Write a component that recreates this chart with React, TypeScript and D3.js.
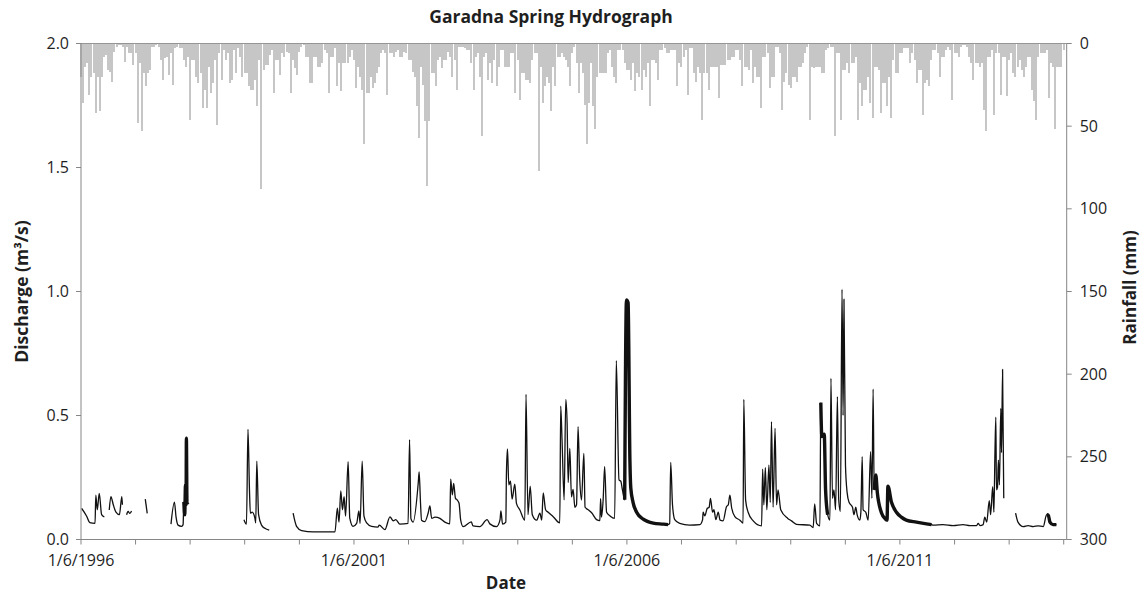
import React from "react";
import * as d3 from "d3";

// ---- labels ----
const chartTitle = "Garadna Spring Hydrograph";
const xTitle = "Date";
const leftTitle = "Discharge (m³/s)";
const rightTitle = "Rainfall (mm)";
const dischargeTicks = [0, 0.5, 1.0, 1.5, 2.0];
const rainTicks = [0, 50, 100, 150, 200, 250, 300];
const labelledYears = [1996, 2001, 2006, 2011];

// ---- rainfall: fortnightly maxima (mm), each row starts on 1 June of its year ----
const rainYears = [1996, 1997, 1998, 1999, 2000, 2001, 2002, 2003, 2004, 2005, 2006, 2007, 2008, 2009, 2010, 2011, 2012, 2013, 2014];
const rainFortnightly: number[][] = [
  [20, 36, 14, 12, 31, 20, 18, 42, 20, 41, 20, 8, 7, 16, 17, 23, 5, 2, 1, 1, 2, 11, 2, 6, 6, 13],
  [6, 48, 12, 53, 18, 26, 18, 16, 2, 2, 1, 2, 10, 22, 9, 8, 19, 6, 25, 3, 2, 3, 3, 10, 14, 8],
  [46, 10, 10, 20, 24, 18, 39, 28, 39, 14, 30, 24, 10, 49, 6, 22, 4, 10, 6, 24, 22, 4, 18, 3, 8, 20],
  [18, 18, 26, 28, 28, 22, 38, 10, 88, 16, 13, 13, 7, 4, 30, 10, 10, 19, 6, 8, 5, 6, 30, 10, 15, 19],
  [5, 2, 1, 8, 8, 24, 24, 8, 8, 14, 14, 12, 4, 6, 30, 8, 8, 3, 26, 12, 29, 12, 12, 12, 8, 4],
  [10, 27, 14, 20, 28, 61, 30, 30, 20, 27, 24, 18, 14, 6, 4, 6, 31, 6, 6, 8, 5, 4, 8, 8, 5, 6],
  [10, 10, 17, 20, 38, 57, 14, 25, 47, 86, 47, 18, 18, 26, 10, 8, 15, 10, 10, 5, 8, 20, 10, 28, 2, 2],
  [2, 3, 4, 4, 12, 28, 8, 6, 20, 56, 8, 6, 22, 12, 24, 10, 26, 14, 4, 4, 14, 14, 14, 6, 6, 30],
  [10, 34, 18, 18, 22, 22, 24, 10, 6, 6, 77, 14, 36, 26, 20, 24, 41, 14, 26, 8, 8, 6, 8, 10, 14, 26],
  [6, 2, 12, 30, 12, 18, 37, 61, 36, 12, 38, 52, 20, 18, 18, 18, 18, 6, 4, 14, 20, 24, 4, 4, 4, 12],
  [16, 16, 22, 12, 29, 18, 20, 28, 16, 20, 12, 38, 10, 10, 12, 22, 4, 4, 3, 6, 6, 4, 4, 4, 26, 12],
  [14, 8, 4, 31, 3, 3, 18, 23, 14, 18, 46, 18, 18, 28, 14, 14, 14, 14, 33, 13, 13, 13, 10, 10, 8, 8],
  [4, 4, 10, 26, 14, 14, 16, 4, 24, 14, 20, 20, 39, 8, 8, 6, 27, 20, 20, 2, 2, 6, 40, 23, 18, 25],
  [27, 20, 20, 23, 14, 14, 12, 6, 2, 46, 14, 15, 14, 14, 14, 18, 18, 4, 3, 2, 2, 56, 6, 6, 46, 16],
  [16, 12, 18, 12, 12, 8, 46, 24, 38, 28, 28, 20, 36, 45, 14, 14, 16, 42, 24, 24, 38, 20, 45, 10, 18, 18],
  [6, 6, 3, 3, 3, 12, 6, 10, 24, 16, 16, 43, 24, 22, 26, 10, 4, 4, 6, 20, 8, 8, 4, 2, 4, 34],
  [6, 6, 8, 2, 1, 1, 2, 8, 12, 22, 12, 12, 14, 12, 40, 53, 8, 8, 4, 43, 6, 6, 31, 8, 8, 32],
  [10, 6, 18, 20, 14, 10, 16, 20, 14, 8, 8, 28, 35, 46, 8, 6, 6, 6, 4, 33, 12, 14, 52, 14, 14, 14],
  [4],
];

// ---- spring discharge (m³/s), continuous records between data gaps ----
const dischargeRuns: [string, number][][] = [
  [["1996-06-05", 0.126], ["1996-07-08", 0.095], ["1996-07-30", 0.068], ["1996-09-03", 0.065], ["1996-09-08", 0.179], ["1996-09-18", 0.12], ["1996-10-01", 0.186], ["1996-10-17", 0.10], ["1996-11-04", 0.091]],
  [["1996-12-07", 0.119], ["1996-12-18", 0.173], ["1997-01-03", 0.14], ["1997-01-21", 0.11], ["1997-02-13", 0.10], ["1997-03-01", 0.173], ["1997-03-05", 0.14]],
  [["1997-04-02", 0.10], ["1997-04-12", 0.113], ["1997-04-24", 0.105], ["1997-05-05", 0.115]],
  [["1997-08-05", 0.163], ["1997-08-18", 0.105]],
  [["1998-01-24", 0.062], ["1998-02-16", 0.151], ["1998-02-27", 0.09], ["1998-03-12", 0.058], ["1998-04-05", 0.053], ["1998-04-15", 0.06], ["1998-04-20", 0.152], ["1998-04-26", 0.10], ["1998-05-01", 0.22], ["1998-05-05", 0.14], ["1998-05-07", 0.408], ["1998-05-11", 0.146], ["1998-05-18", 0.15]],
  [["1999-05-27", 0.08], ["1999-06-13", 0.062], ["1999-06-23", 0.444], ["1999-07-03", 0.2], ["1999-07-09", 0.106], ["1999-07-21", 0.11], ["1999-08-08", 0.087], ["1999-08-14", 0.067], ["1999-08-21", 0.316], ["1999-09-02", 0.1], ["1999-09-22", 0.058], ["1999-10-14", 0.045], ["1999-11-12", 0.038]],
  [
    ["2000-04-20", 0.106], ["2000-05-13", 0.053], ["2000-06-16", 0.036], ["2000-09-02", 0.031], ["2001-01-25", 0.031],
    ["2001-02-10", 0.126], ["2001-02-21", 0.07], ["2001-03-05", 0.196], ["2001-03-16", 0.12], ["2001-03-27", 0.173],
    ["2001-04-06", 0.094], ["2001-04-23", 0.314], ["2001-05-04", 0.086], ["2001-05-26", 0.053], ["2001-06-19", 0.065],
    ["2001-07-04", 0.115], ["2001-07-12", 0.065], ["2001-07-26", 0.316], ["2001-08-07", 0.094], ["2001-08-25", 0.067],
    ["2001-09-27", 0.053], ["2001-11-09", 0.05], ["2001-11-17", 0.058], ["2001-12-25", 0.04], ["2002-01-28", 0.091],
    ["2002-02-19", 0.075], ["2002-03-08", 0.08], ["2002-04-04", 0.062], ["2002-05-29", 0.065], ["2002-06-08", 0.403],
    ["2002-06-17", 0.084], ["2002-07-02", 0.07], ["2002-08-05", 0.228], ["2002-08-11", 0.273], ["2002-08-20", 0.15],
    ["2002-08-27", 0.078], ["2002-09-18", 0.072], ["2002-10-10", 0.106], ["2002-10-22", 0.135], ["2002-11-03", 0.085],
    ["2002-11-25", 0.09], ["2002-12-28", 0.085], ["2003-01-30", 0.07], ["2003-03-04", 0.063], ["2003-03-10", 0.243],
    ["2003-03-21", 0.18], ["2003-03-30", 0.226], ["2003-04-11", 0.166], ["2003-04-22", 0.16], ["2003-05-05", 0.146],
    ["2003-05-16", 0.078], ["2003-06-01", 0.052], ["2003-07-26", 0.071], ["2003-08-06", 0.055], ["2003-09-21", 0.052],
    ["2003-11-09", 0.08], ["2003-11-27", 0.063], ["2004-01-11", 0.052], ["2004-02-03", 0.079], ["2004-02-09", 0.115],
    ["2004-02-20", 0.062], ["2004-03-13", 0.07], ["2004-03-17", 0.267], ["2004-03-24", 0.365], ["2004-04-02", 0.22],
    ["2004-04-13", 0.235], ["2004-04-24", 0.163], ["2004-05-12", 0.223], ["2004-05-23", 0.146], ["2004-06-15", 0.119],
    ["2004-07-18", 0.078], ["2004-07-26", 0.585], ["2004-08-08", 0.1], ["2004-08-23", 0.215], ["2004-09-06", 0.1],
    ["2004-10-05", 0.078], ["2004-10-27", 0.106], ["2004-11-08", 0.078], ["2004-11-18", 0.188], ["2004-12-04", 0.12],
    ["2004-12-21", 0.11], ["2005-01-24", 0.092], ["2005-03-09", 0.067], ["2005-03-15", 0.538], ["2005-03-24", 0.401],
    ["2005-04-07", 0.16], ["2005-04-18", 0.565], ["2005-04-27", 0.468], ["2005-05-04", 0.23], ["2005-05-15", 0.367],
    ["2005-05-26", 0.172], ["2005-06-06", 0.202], ["2005-06-18", 0.13], ["2005-06-29", 0.14], ["2005-07-09", 0.455],
    ["2005-07-20", 0.25], ["2005-08-01", 0.159], ["2005-08-17", 0.347], ["2005-08-25", 0.13], ["2005-09-15", 0.12],
    ["2005-10-08", 0.108], ["2005-11-10", 0.08], ["2005-12-02", 0.076], ["2005-12-07", 0.165], ["2005-12-13", 0.09],
    ["2005-12-24", 0.16], ["2006-01-03", 0.294], ["2006-01-16", 0.11], ["2006-02-08", 0.095], ["2006-03-11", 0.085],
    ["2006-03-22", 0.721], ["2006-04-09", 0.24], ["2006-04-21", 0.235], ["2006-05-02", 0.2], ["2006-05-17", 0.16],
    ["2006-05-29", 0.966], ["2006-06-09", 0.955], ["2006-06-21", 0.32], ["2006-06-27", 0.207], ["2006-07-12", 0.15],
    ["2006-08-05", 0.11], ["2006-09-18", 0.082], ["2006-11-24", 0.066], ["2007-01-30", 0.062], ["2007-03-03", 0.06],
    ["2007-03-14", 0.065], ["2007-03-21", 0.311], ["2007-04-02", 0.139], ["2007-04-17", 0.08], ["2007-05-20", 0.065],
    ["2007-07-25", 0.058], ["2007-10-02", 0.06], ["2007-10-20", 0.079], ["2007-10-24", 0.11], ["2007-11-04", 0.095],
    ["2007-11-20", 0.125], ["2007-12-03", 0.13], ["2007-12-12", 0.166], ["2007-12-26", 0.11], ["2008-01-04", 0.12],
    ["2008-01-17", 0.08], ["2008-02-02", 0.11], ["2008-02-14", 0.078], ["2008-03-05", 0.075], ["2008-03-28", 0.132],
    ["2008-04-09", 0.14], ["2008-04-20", 0.179], ["2008-05-01", 0.13], ["2008-05-23", 0.092], ["2008-06-26", 0.078],
    ["2008-07-17", 0.066], ["2008-07-22", 0.565], ["2008-08-03", 0.159], ["2008-08-20", 0.11], ["2008-09-23", 0.075],
    ["2008-11-18", 0.055], ["2008-11-25", 0.284], ["2008-12-03", 0.14], ["2008-12-13", 0.29], ["2008-12-23", 0.12],
    ["2009-01-06", 0.30], ["2009-01-15", 0.15], ["2009-01-23", 0.475], ["2009-02-03", 0.13], ["2009-02-16", 0.448],
    ["2009-02-26", 0.14], ["2009-03-08", 0.2], ["2009-03-26", 0.12], ["2009-05-12", 0.085], ["2009-06-06", 0.075],
    ["2009-07-09", 0.061], ["2009-10-07", 0.058], ["2009-10-29", 0.048], ["2009-11-08", 0.144], ["2009-11-21", 0.065],
    ["2009-12-13", 0.055], ["2009-12-19", 0.552], ["2009-12-26", 0.415], ["2010-01-02", 0.42], ["2010-01-11", 0.425],
    ["2010-01-20", 0.2], ["2010-02-03", 0.1], ["2010-02-18", 0.078], ["2010-02-25", 0.65], ["2010-03-07", 0.166],
    ["2010-03-17", 0.2], ["2010-03-28", 0.12], ["2010-04-09", 0.576], ["2010-04-18", 0.16], ["2010-04-29", 0.113],
    ["2010-05-10", 1.009], ["2010-05-17", 0.5], ["2010-05-23", 0.969], ["2010-06-02", 0.3], ["2010-06-13", 0.19],
    ["2010-06-26", 0.15], ["2010-07-19", 0.13], ["2010-07-29", 0.1], ["2010-08-10", 0.13], ["2010-08-19", 0.1],
    ["2010-09-06", 0.078], ["2010-09-13", 0.11], ["2010-09-22", 0.334], ["2010-09-28", 0.12], ["2010-10-16", 0.11],
    ["2010-11-01", 0.078], ["2010-11-17", 0.354], ["2010-11-26", 0.166], ["2010-12-04", 0.606], ["2010-12-11", 0.2],
    ["2010-12-22", 0.26], ["2011-01-01", 0.19], ["2011-01-30", 0.106], ["2011-02-21", 0.085], ["2011-03-07", 0.078],
    ["2011-03-13", 0.215], ["2011-04-06", 0.15], ["2011-05-09", 0.11], ["2011-06-11", 0.09], ["2011-07-14", 0.078],
    ["2011-09-20", 0.07], ["2011-11-26", 0.063], ["2011-12-30", 0.06], ["2012-01-10", 0.058], ["2012-03-16", 0.06],
    ["2012-05-22", 0.056], ["2012-07-28", 0.06], ["2012-09-12", 0.056], ["2012-10-26", 0.056], ["2012-11-06", 0.065],
    ["2012-11-18", 0.056], ["2012-12-09", 0.06], ["2012-12-20", 0.09], ["2013-01-02", 0.07], ["2013-01-19", 0.157],
    ["2013-01-28", 0.1], ["2013-02-11", 0.213], ["2013-02-19", 0.11], ["2013-02-26", 0.35], ["2013-03-04", 0.493],
    ["2013-03-08", 0.2], ["2013-03-15", 0.21], ["2013-03-21", 0.32], ["2013-03-28", 0.22], ["2013-04-06", 0.529],
    ["2013-04-11", 0.35], ["2013-04-18", 0.686], ["2013-04-26", 0.166],
  ],
  [["2013-07-14", 0.106], ["2013-07-30", 0.07], ["2013-09-03", 0.052], ["2013-10-06", 0.056], ["2013-11-09", 0.052], ["2013-12-12", 0.055], ["2014-01-15", 0.052], ["2014-02-07", 0.1], ["2014-02-18", 0.098], ["2014-03-01", 0.07], ["2014-03-21", 0.06], ["2014-04-13", 0.06]],
];

// stretches where the daily record scatters densely and reads as a heavier trace
const heavyStretches: [string, string][] = [
  ["1998-04-20", "1998-05-18"],
  ["2006-05-17", "2007-03-03"],
  ["2009-12-19", "2010-02-03"],
  ["2010-12-11", "2011-12-30"],
  ["2014-02-07", "2014-04-13"],
];

const W = 1145;
const H = 594;
const plot = { left: 81, right: 1066.7, top: 43.5, bottom: 539.5 };
const FONT = "'Open Sans', 'DejaVu Sans', sans-serif";
const AXIS = "#868686";
const INK = "#1f1f1f";

const parse = d3.utcParse("%Y-%m-%d");
const fmt = d3.utcFormat("%-d/%-m/%Y");

export default function App() {
  const x = d3
    .scaleUtc()
    .domain([new Date(Date.UTC(1996, 5, 1)), new Date(Date.UTC(2014, 5, 21))])
    .range([plot.left, plot.right]);
  const yQ = d3.scaleLinear().domain([0, 2]).range([plot.bottom, plot.top]);
  const yR = d3.scaleLinear().domain([0, 300]).range([plot.top, plot.bottom]);

  const rainBars: { d: Date; v: number }[] = [];
  rainYears.forEach((yr, yi) => {
    rainFortnightly[yi].forEach((v, i) => {
      rainBars.push({ d: d3.utcDay.offset(new Date(Date.UTC(yr, 5, 1)), i * 14), v });
    });
  });

  const runs = dischargeRuns.map((run) => run.map(([s, q]) => ({ d: parse(s) as Date, q })));
  const line = d3
    .line<{ d: Date; q: number }>()
    .x((p) => x(p.d))
    .y((p) => yQ(p.q))
    .curve(d3.curveMonotoneX);

  const heavy = heavyStretches.map(([a, b]) => [parse(a) as Date, parse(b) as Date]);
  const heavyPieces: { d: Date; q: number }[][] = [];
  runs.forEach((run) => {
    heavy.forEach(([a, b]) => {
      const piece = run.filter((p) => p.d >= a && p.d <= b);
      if (piece.length > 1) heavyPieces.push(piece);
    });
  });

  const yearTicks = d3.range(1996, 2015).map((y) => new Date(Date.UTC(y, 5, 1)));
  const labelDates = labelledYears.map((y) => new Date(Date.UTC(y, 5, 1)));
  const barW = 2.0;

  return (
    <svg
      width={W}
      height={H}
      style={{ position: "absolute", left: 0, top: 0, display: "block", background: "#fff" }}
      fontFamily={FONT}
    >
      {/* rainfall bars hanging from the top axis */}
      <g fill="#c6c6c6" shapeRendering="crispEdges">
        {rainBars.map((b, i) => (
          <rect key={i} x={x(b.d) - barW / 2} y={yR(0)} width={barW} height={yR(b.v) - yR(0)} />
        ))}
      </g>
      <line x1={plot.left} x2={plot.right} y1={plot.top} y2={plot.top} stroke="#959595" strokeWidth={1} />

      {/* discharge */}
      <g fill="none" stroke="#111" strokeLinejoin="round">
        {runs.map((run, i) => (
          <path key={i} d={line(run) || ""} strokeWidth={1.3} />
        ))}
        {heavyPieces.map((run, i) => (
          <path key={"h" + i} d={line(run) || ""} strokeWidth={3.4} />
        ))}
      </g>

      {/* axes */}
      <g stroke={AXIS} strokeWidth={1}>
        <line x1={plot.left} x2={plot.left} y1={plot.top} y2={plot.bottom} />
        <line x1={plot.right} x2={plot.right} y1={plot.top} y2={plot.bottom} />
        <line x1={plot.left} x2={plot.right} y1={plot.bottom} y2={plot.bottom} />
        {dischargeTicks.map((t) => (
          <line key={"l" + t} x1={plot.left - 5} x2={plot.left} y1={yQ(t)} y2={yQ(t)} />
        ))}
        {rainTicks.map((t) => (
          <line key={"r" + t} x1={plot.right} x2={plot.right + 5} y1={yR(t)} y2={yR(t)} />
        ))}
        {yearTicks.map((d, i) => (
          <line key={"x" + i} x1={x(d)} x2={x(d)} y1={plot.bottom} y2={plot.bottom + 5} />
        ))}
      </g>

      <g fill={INK} fontSize={16}>
        {dischargeTicks.map((t) => (
          <text key={"lt" + t} x={plot.left - 12} y={yQ(t)} dy="0.35em" textAnchor="end">
            {d3.format(".1f")(t)}
          </text>
        ))}
        {rainTicks.map((t) => (
          <text key={"rt" + t} x={plot.right + 13} y={yR(t)} dy="0.35em" textAnchor="start">
            {t}
          </text>
        ))}
        {labelDates.map((d, i) => (
          <text key={"xt" + i} x={x(d)} y={566} textAnchor="middle">
            {fmt(d)}
          </text>
        ))}
      </g>

      <g fill={INK} fontWeight="bold">
        <text x={551} y={23} textAnchor="middle" fontSize={17.5}>
          {chartTitle}
        </text>
        <text x={506} y={589} textAnchor="middle" fontSize={17}>
          {xTitle}
        </text>
        <text transform={`translate(28, ${(plot.top + plot.bottom) / 2}) rotate(-90)`} textAnchor="middle" fontSize={17.5}>
          {leftTitle}
        </text>
        <text transform={`translate(1136, ${(plot.top + plot.bottom) / 2 - 4}) rotate(-90)`} textAnchor="middle" fontSize={17}>
          {rightTitle}
        </text>
      </g>
    </svg>
  );
}
